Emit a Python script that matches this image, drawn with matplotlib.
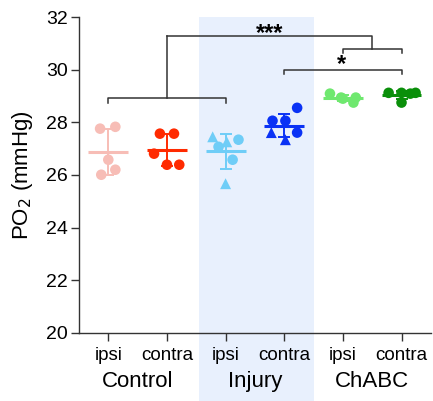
import numpy as np
import matplotlib
matplotlib.use("Agg")
import matplotlib.pyplot as plt
import matplotlib.transforms as mtransforms

plt.rcParams['font.family'] = ['Liberation Sans', 'DejaVu Sans']

# Tissue PO2 per group (mmHg)
groups = ["Control", "Injury", "ChABC"]
sides = ["ipsi", "contra", "ipsi", "contra", "ipsi", "contra"]
colors = ["#f7bdb6", "#ff2a00", "#6fcdf7", "#0a32f5", "#6fe86f", "#0a8f0a"]

ctrl_ipsi = [27.76, 27.83, 26.58, 26.01, 26.20]
ctrl_contra = [27.57, 27.57, 26.81, 26.39, 26.39]
inj_ipsi_circ = [27.34, 27.07, 26.58]
inj_ipsi_tri = [27.45, 27.26, 25.67]
inj_contra_circ = [28.06, 28.06, 28.55, 27.61]
inj_contra_tri = [27.61, 27.34]
chabc_ipsi = [29.09, 28.90, 28.75, 28.94, 28.94]
chabc_contra = [29.12, 29.12, 29.09, 29.12, 28.75]

# horizontal spread of points within each column
circ_values = [ctrl_ipsi, ctrl_contra, inj_ipsi_circ, inj_contra_circ, chabc_ipsi, chabc_contra]
circ_offsets = [[-0.14, 0.12, 0.0, -0.12, 0.12],
                [-0.12, 0.12, -0.22, 0.0, 0.21],
                [0.22, -0.12, 0.12],
                [-0.20, 0.02, 0.22, 0.22],
                [-0.22, 0.0, 0.18, 0.22, -0.03],
                [-0.22, 0.0, 0.15, 0.24, 0.0]]
tri_values = {2: inj_ipsi_tri, 3: inj_contra_tri}
tri_offsets = {2: [-0.22, 0.02, 0.0], 3: [-0.22, 0.02]}

fig = plt.figure(figsize=(4.33, 4.01), dpi=100)
ax = fig.add_axes([0.1824, 0.1696, 0.8126, 0.788])

# shaded Injury band, running down through the labels
trans = mtransforms.blended_transform_factory(ax.transData, fig.transFigure)
band = plt.Rectangle((1.55, 0.0), 1.96, 0.9576, transform=trans,
                     facecolor="#e8f0fd", edgecolor="none", zorder=0, clip_on=False)
ax.add_patch(band)

for i in range(6):
    vals = list(circ_values[i])
    ax.scatter(np.array(circ_offsets[i]) + i, circ_values[i], s=58, color=colors[i],
               edgecolors="none", zorder=3)
    if i in tri_values:
        ax.scatter(np.array(tri_offsets[i]) + i, tri_values[i], s=62, marker="^",
                   color=colors[i], edgecolors="none", zorder=3)
        vals += tri_values[i]
    m = np.mean(vals)
    sd = np.std(vals, ddof=1)
    ax.plot([i - 0.34, i + 0.34], [m, m], color=colors[i], lw=2.2, zorder=4,
            solid_capstyle="butt")
    ax.errorbar(i, m, yerr=sd, color=colors[i], lw=1.4, capsize=4, capthick=1.4,
                zorder=4)

ax.set_xlim(-0.5, 5.5)
ax.set_ylim(20, 32)
ax.set_yticks(np.arange(20, 33, 2))
ax.set_xticks(range(6))
ax.set_xticklabels(sides)
ax.tick_params(axis="both", direction="out", length=6, width=1, color="#333333",
               labelsize=14, pad=2)
ax.tick_params(axis="x", labelsize=13.5, pad=4)
for s in ["top", "right"]:
    ax.spines[s].set_visible(False)
for s in ["left", "bottom"]:
    ax.spines[s].set_color("#333333")
    ax.spines[s].set_linewidth(1)
ax.patch.set_alpha(0)
ax.set_ylabel("PO$_2$ (mmHg)", fontsize=16, labelpad=8)

for k, g in enumerate(groups):
    ax.text(2 * k + 0.5, -0.152, g, transform=mtransforms.blended_transform_factory(
        ax.transData, ax.transAxes), ha="center", va="center", fontsize=16)

# significance brackets
bk = dict(color="#333333", lw=1.1, zorder=5, clip_on=False)
ax.plot([0, 0, 2, 2], [28.75, 28.94, 28.94, 28.75], **bk)
ax.plot([1, 1], [28.94, 31.29], **bk)
ax.plot([1, 4.5, 4.5], [31.29, 31.29, 30.8], **bk)
ax.plot([4, 4, 5, 5], [30.65, 30.8, 30.8, 30.65], **bk)
ax.plot([3, 3, 5, 5], [29.85, 30.0, 30.0, 29.85], **bk)
ax.text(2.75, 30.95, "***", ha="center", va="bottom", fontsize=17, fontweight="bold")
ax.text(3.97, 29.76, "*", ha="center", va="bottom", fontsize=17, fontweight="bold")

fig.savefig("out.png", dpi=100)
